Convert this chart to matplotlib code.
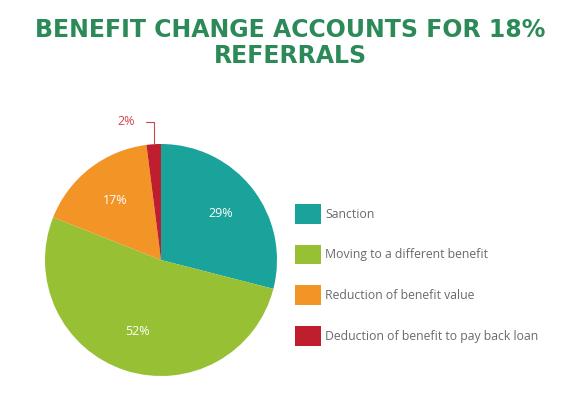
import matplotlib
matplotlib.use("Agg")
import matplotlib.pyplot as plt
import numpy as np

# data
labels = ["Sanction", "Moving to a different benefit",
          "Reduction of benefit value", "Deduction of benefit to pay back loan"]
values = [29, 52, 17, 2]
colors = ["#1aa39a", "#98c034", "#f39427", "#be1e2d"]

fig = plt.figure(figsize=(5.81, 3.99), dpi=100)
fig.patch.set_facecolor("white")

fig.text(0.5, 1 - 43 / 399, "BENEFIT CHANGE ACCOUNTS FOR 18%\nREFERRALS",
         ha="center", va="center", color="#2b8a57", fontsize=17,
         fontweight="heavy", family="DejaVu Sans", linespacing=1.1)

ax = fig.add_axes([45 / 581, 23 / 399, 232 / 581, 232 / 399])


def pct(p):
    return f"{p:.0f}%" if p > 3 else ""


wedges, texts, autotexts = ax.pie(values, colors=colors, startangle=90,
                                  counterclock=False, autopct=pct,
                                  pctdistance=0.65,
                                  textprops=dict(color="white", fontsize=9,
                                                 family="Open Sans"))
ax.set_xlim(-1, 1)
ax.set_ylim(-1, 1)
ax.set_aspect("equal")

# small slice label with leader line
w = wedges[3]
mid = np.deg2rad((w.theta1 + w.theta2) / 2)
x0, y0 = np.cos(mid), np.sin(mid)
ax.annotate(f"{values[3]}%", xy=(x0, y0), xytext=(x0 - 0.16, 1.19),
            ha="right", va="center", color="#d0444f", fontsize=9,
            family="Open Sans", annotation_clip=False,
            arrowprops=dict(arrowstyle="-", color="#d0444f", lw=0.8,
                            shrinkA=6, shrinkB=0,
                            connectionstyle="angle,angleA=0,angleB=90,rad=0"))

leg = fig.legend(wedges, labels, loc="upper left",
                 bbox_to_anchor=(284 / 581, 1 - 193 / 399), frameon=False,
                 handlelength=2.1, handleheight=2.1, labelspacing=1.72,
                 handletextpad=0.35, prop=dict(family="Open Sans", size=8.8))
for t in leg.get_texts():
    t.set_color("#6a6a6a")

fig.savefig("out.png", dpi=100)
